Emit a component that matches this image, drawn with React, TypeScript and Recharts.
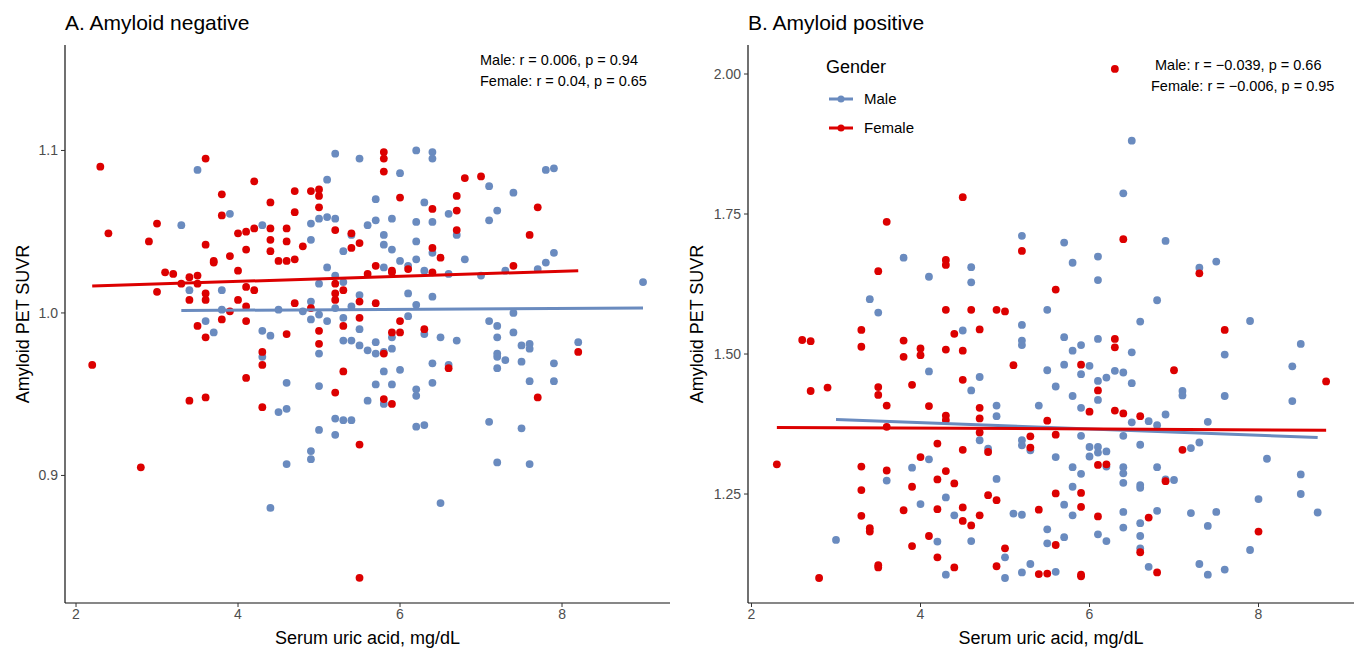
import { ScatterChart, Scatter, XAxis, YAxis } from 'recharts';

const BLUE = '#6a8bbf';
const RED = '#dc0000';
const FONT = '"Liberation Sans", Arial, Helvetica, sans-serif';

type Pt = [number, number];

// A. Amyloid negative
const negMale: Pt[] = [
  [3.5, 1.088], [3.3, 1.054], [3.4, 1.014], [3.8, 1.014], [3.8, 1.002], [3.6, 0.995], [3.9, 1.061], [4.3, 1.054],
  [4.9, 1.055], [5.0, 1.058], [5.1, 1.059], [5.2, 1.058], [5.1, 1.082], [5.2, 1.098], [5.5, 1.095], [4.9, 1.045],
  [5.3, 1.038], [5.4, 1.048], [5.1, 1.028], [5.2, 1.023], [5.6, 1.054], [5.0, 1.018], [5.3, 1.019], [4.9, 1.007],
  [5.0, 0.999], [5.2, 1.003], [5.5, 1.011], [5.4, 1.004], [4.5, 1.002], [4.8, 1.001], [4.9, 0.996], [5.1, 0.995],
  [5.3, 0.997], [3.7, 0.988], [4.3, 0.989], [5.5, 0.990],
  [4.3, 0.973], [4.4, 0.986], [5.0, 0.975], [5.3, 0.983], [5.4, 0.983], [5.5, 0.980], [5.6, 0.977], [4.6, 0.957],
  [5.0, 0.955], [5.6, 0.946], [4.5, 0.939], [4.6, 0.941], [5.2, 0.935], [5.3, 0.934], [5.4, 0.934], [5.0, 0.928],
  [5.2, 0.925], [4.9, 0.915], [4.9, 0.910], [4.6, 0.907], [4.4, 0.880],
  [6.0, 1.086], [6.2, 1.100], [6.4, 1.099], [6.4, 1.095], [5.7, 1.070], [5.7, 1.057], [5.9, 1.058], [6.3, 1.068],
  [6.2, 1.056], [6.4, 1.056], [6.6, 1.061], [7.1, 1.078], [7.4, 1.074], [7.2, 1.063], [7.1, 1.057], [7.8, 1.088],
  [7.9, 1.089], [7.9, 1.037], [7.8, 1.031], [7.7, 1.027], [7.3, 1.026], [7.0, 1.023], [6.8, 1.033], [6.7, 1.048],
  [5.8, 1.048], [5.8, 1.042], [5.9, 1.039], [6.2, 1.044], [6.2, 1.033], [6.4, 1.037], [6.0, 1.032], [6.1, 1.029],
  [5.8, 1.028], [6.3, 1.026], [6.6, 1.024], [6.1, 1.012], [6.4, 1.010], [6.2, 1.005], [6.1, 0.998], [7.4, 1.000],
  [7.1, 0.995], [7.2, 0.992], [9.0, 1.019],
  [6.3, 0.987], [5.7, 0.982], [5.9, 0.985], [5.7, 0.975], [5.8, 0.976], [5.9, 0.978], [6.5, 0.985], [6.7, 0.983],
  [7.2, 0.985], [7.4, 0.988], [7.5, 0.980], [7.6, 0.981], [7.6, 0.978], [7.2, 0.975], [7.2, 0.973], [7.3, 0.971],
  [7.2, 0.966], [7.5, 0.970], [7.9, 0.969], [8.2, 0.982], [7.6, 0.958], [7.9, 0.958], [6.4, 0.969], [6.6, 0.968],
  [5.8, 0.964], [6.0, 0.965], [5.7, 0.956], [5.9, 0.956], [6.4, 0.957], [6.2, 0.953], [6.2, 0.949], [5.8, 0.944],
  [6.2, 0.930], [6.3, 0.931], [7.1, 0.933], [7.5, 0.929], [7.2, 0.908], [7.6, 0.907], [6.5, 0.883],
];

const negFemale: Pt[] = [
  [2.3, 1.090], [3.6, 1.095], [2.4, 1.049], [3.0, 1.055], [2.9, 1.044], [3.1, 1.025], [3.2, 1.024], [3.0, 1.013],
  [3.3, 1.018], [3.4, 1.022], [3.5, 1.023], [3.4, 1.008], [3.5, 1.018], [3.6, 1.012], [3.6, 1.008], [3.5, 0.992],
  [3.6, 1.042], [3.7, 1.032], [3.7, 1.031], [3.8, 1.073], [3.8, 1.060], [3.9, 1.035], [4.0, 1.026], [3.9, 1.001],
  [3.8, 0.996], [4.0, 1.049], [4.1, 1.050], [4.2, 1.052], [4.2, 1.081], [4.1, 1.039], [4.1, 1.016], [4.2, 1.014],
  [4.0, 1.008], [4.1, 1.004], [4.1, 0.995], [4.4, 1.068], [4.4, 1.052], [4.4, 1.045], [4.4, 1.038], [4.5, 1.032],
  [4.6, 1.032], [4.7, 1.033], [4.6, 1.052], [4.6, 1.044], [4.7, 1.075], [4.7, 1.062], [4.8, 1.041], [4.9, 1.075],
  [5.0, 1.076], [5.0, 1.072], [5.0, 1.065], [5.2, 1.051], [5.4, 1.049], [5.4, 1.040], [5.5, 1.043], [5.6, 1.024],
  [5.2, 1.018], [5.3, 1.014], [4.7, 1.006], [4.9, 1.003], [5.2, 1.012], [5.2, 1.008], [5.5, 1.007], [5.5, 0.997],
  [5.3, 0.992], [5.0, 0.989],
  [2.2, 0.968], [2.8, 0.905], [3.6, 0.985], [4.3, 0.976], [4.3, 0.968], [4.1, 0.960], [4.6, 0.987], [5.0, 0.981],
  [5.3, 0.964], [5.2, 0.951], [3.4, 0.946], [3.6, 0.948], [4.3, 0.942], [5.5, 0.919], [5.5, 0.837],
  [5.8, 1.099], [5.8, 1.095], [5.8, 1.087], [6.0, 1.071], [6.4, 1.064], [6.7, 1.072], [6.7, 1.063], [6.8, 1.083],
  [7.0, 1.084], [7.7, 1.065], [7.6, 1.048], [7.4, 1.029], [6.7, 1.051], [6.4, 1.040], [6.5, 1.034], [6.1, 1.027],
  [5.7, 1.029], [5.9, 1.026], [5.9, 1.025], [6.4, 1.025], [5.7, 1.006], [6.0, 0.995],
  [5.9, 0.988], [6.0, 0.988], [6.3, 0.990], [5.8, 0.975], [8.2, 0.976], [7.7, 0.948], [6.6, 0.966], [5.8, 0.947],
  [5.9, 0.944],
];

const negMaleFit: Pt[] = [[3.3, 1.0015], [9.0, 1.003]];
const negFemaleFit: Pt[] = [[2.2, 1.0166], [8.2, 1.026]];

// B. Amyloid positive
const posMale: Pt[] = [
  [5.2, 1.711], [3.8, 1.672], [4.6, 1.655], [4.6, 1.628], [4.1, 1.638], [3.4, 1.598], [3.5, 1.574], [5.5, 1.579],
  [5.2, 1.552], [4.5, 1.542],
  [5.2, 1.524], [5.2, 1.516], [5.5, 1.471], [4.1, 1.469], [4.7, 1.459], [4.6, 1.435], [4.9, 1.408], [4.9, 1.389],
  [5.4, 1.408], [4.7, 1.346], [5.2, 1.346], [5.2, 1.337], [5.3, 1.328], [4.8, 1.331], [4.1, 1.312], [3.6, 1.274],
  [3.9, 1.297], [4.9, 1.277], [4.3, 1.244], [4.0, 1.232], [4.4, 1.212], [5.1, 1.215], [5.2, 1.213], [5.5, 1.187],
  [5.5, 1.162], [3.0, 1.168], [4.2, 1.165], [4.6, 1.166], [5.0, 1.137], [5.2, 1.110], [5.3, 1.125], [4.3, 1.106],
  [5.0, 1.100],
  [6.5, 1.881], [6.4, 1.787], [6.9, 1.702], [5.7, 1.699], [6.1, 1.674], [5.8, 1.663], [6.1, 1.632], [7.3, 1.654],
  [7.5, 1.665], [6.8, 1.596], [6.6, 1.558], [7.9, 1.559],
  [5.7, 1.530], [6.1, 1.527], [5.8, 1.506], [5.9, 1.516], [6.5, 1.503], [7.6, 1.499], [8.5, 1.518], [6.0, 1.479],
  [5.7, 1.481], [5.9, 1.464], [6.1, 1.452], [6.2, 1.458], [6.3, 1.470], [6.4, 1.467], [6.5, 1.448], [8.4, 1.478],
  [8.4, 1.416], [5.6, 1.442], [6.1, 1.418], [5.8, 1.425], [7.1, 1.434], [7.1, 1.426], [7.6, 1.425], [5.9, 1.404],
  [6.5, 1.378], [6.7, 1.380], [6.8, 1.373], [6.9, 1.392], [7.4, 1.379], [5.9, 1.354], [6.4, 1.354], [6.6, 1.338],
  [7.2, 1.332], [7.3, 1.342], [6.0, 1.334], [6.1, 1.334], [6.1, 1.324], [6.2, 1.326], [6.0, 1.317], [8.1, 1.313],
  [5.6, 1.316], [6.2, 1.299], [5.8, 1.298], [5.9, 1.286], [6.4, 1.298], [6.4, 1.287], [6.4, 1.270], [6.8, 1.298],
  [6.9, 1.276], [7.0, 1.275], [6.6, 1.266], [6.6, 1.261], [5.8, 1.263], [8.5, 1.285], [8.5, 1.250], [5.7, 1.231],
  [5.8, 1.212], [6.4, 1.218], [6.4, 1.190], [6.8, 1.220], [6.6, 1.198], [7.2, 1.216], [7.5, 1.218], [7.4, 1.193],
  [8.0, 1.241], [8.7, 1.217], [5.7, 1.173], [6.1, 1.178], [6.2, 1.166], [6.6, 1.175], [6.6, 1.153], [7.9, 1.150],
  [6.7, 1.120], [7.3, 1.125], [7.4, 1.106], [7.6, 1.115], [5.6, 1.111],
];

const posFemale: Pt[] = [
  [4.5, 1.780], [3.6, 1.736], [5.2, 1.684], [4.3, 1.668], [4.3, 1.659], [3.5, 1.648], [4.3, 1.579], [4.6, 1.579],
  [4.9, 1.579], [5.0, 1.576], [3.3, 1.543], [4.7, 1.544],
  [2.6, 1.525], [2.7, 1.523], [3.3, 1.513], [3.8, 1.524], [3.8, 1.495], [4.0, 1.510], [4.0, 1.498], [4.3, 1.508],
  [4.4, 1.536], [4.5, 1.506], [5.1, 1.480], [4.5, 1.454], [2.7, 1.434], [2.9, 1.440], [3.5, 1.441], [3.5, 1.427],
  [3.9, 1.445], [3.6, 1.408], [4.1, 1.407], [4.7, 1.404], [4.7, 1.385], [4.3, 1.390], [4.3, 1.382], [3.6, 1.370],
  [4.7, 1.360], [5.5, 1.381], [5.3, 1.353], [5.3, 1.333], [4.2, 1.340], [4.5, 1.329], [4.8, 1.325], [2.3, 1.303],
  [4.0, 1.316], [3.3, 1.299], [3.6, 1.292], [4.3, 1.291], [4.2, 1.276], [4.4, 1.269], [3.3, 1.257], [3.9, 1.263],
  [4.8, 1.248], [4.9, 1.239], [3.8, 1.221], [4.2, 1.223], [4.5, 1.226], [4.5, 1.202], [4.6, 1.194], [4.7, 1.212],
  [5.4, 1.222], [3.3, 1.211], [3.4, 1.189], [3.4, 1.183], [3.9, 1.157], [4.1, 1.175], [5.0, 1.153], [4.2, 1.137],
  [3.5, 1.123], [3.5, 1.119], [4.4, 1.119], [4.9, 1.121], [5.4, 1.107], [5.5, 1.108], [2.8, 1.100],
  [6.3, 2.009], [6.4, 1.705], [7.3, 1.644], [5.6, 1.615], [7.6, 1.543],
  [6.3, 1.527], [6.3, 1.512], [5.9, 1.481], [7.0, 1.471], [8.8, 1.451], [6.1, 1.435], [6.0, 1.397], [6.3, 1.399],
  [6.4, 1.394], [6.6, 1.389], [5.6, 1.356], [7.1, 1.329], [6.1, 1.302], [6.2, 1.303], [6.9, 1.273], [5.6, 1.251],
  [5.9, 1.252], [5.9, 1.227], [6.1, 1.210], [6.7, 1.208], [8.0, 1.183], [5.6, 1.159], [6.6, 1.146], [6.8, 1.110],
  [5.9, 1.106], [5.9, 1.103],
];

const posMaleFit: Pt[] = [[3.0, 1.383], [8.7, 1.351]];
const posFemaleFit: Pt[] = [[2.3, 1.369], [8.8, 1.364]];

const xTicks = [2, 4, 6, 8];
const negYTicks = [0.9, 1.0, 1.1];
const posYTicks = [1.25, 1.5, 1.75, 2.0];

const toRows = (pts: Pt[]) => pts.map(([x, y]) => ({ x, y }));

const dot = (color: string) => (props: any) => (
  <circle cx={props.cx} cy={props.cy} r={3.9} fill={color} />
);
const noDot = () => <g />;

const tickStyle = { fill: '#4d4d4d', fontSize: 14, fontFamily: FONT };

interface PanelProps {
  male: Pt[];
  female: Pt[];
  maleFit: Pt[];
  femaleFit: Pt[];
  xDomain: [number, number];
  yDomain: [number, number];
  yTicks: number[];
  digits: number;
  width: number;
  yAxisWidth: number;
  rightMargin: number;
}

function Panel(p: PanelProps) {
  return (
    <ScatterChart
      width={p.width}
      height={648}
      margin={{ top: 45, right: p.rightMargin, bottom: 0, left: 0 }}
    >
      <XAxis
        type="number"
        dataKey="x"
        domain={p.xDomain}
        ticks={xTicks}
        allowDataOverflow
        height={45}
        tick={tickStyle}
        tickSize={4}
        tickMargin={2}
        axisLine={{ stroke: '#111', strokeWidth: 1.2 }}
        tickLine={{ stroke: '#333' }}
      />
      <YAxis
        type="number"
        dataKey="y"
        domain={p.yDomain}
        ticks={p.yTicks}
        allowDataOverflow
        width={p.yAxisWidth}
        tick={tickStyle}
        tickSize={4}
        tickMargin={3}
        tickFormatter={(v: number) => v.toFixed(p.digits)}
        axisLine={{ stroke: '#111', strokeWidth: 1.2 }}
        tickLine={{ stroke: '#333' }}
      />
      <Scatter data={toRows(p.male)} shape={dot(BLUE)} isAnimationActive={false} />
      <Scatter data={toRows(p.female)} shape={dot(RED)} isAnimationActive={false} />
      <Scatter
        data={toRows(p.maleFit)}
        line={{ stroke: BLUE, strokeWidth: 3 }}
        shape={noDot}
        isAnimationActive={false}
      />
      <Scatter
        data={toRows(p.femaleFit)}
        line={{ stroke: RED, strokeWidth: 3 }}
        shape={noDot}
        isAnimationActive={false}
      />
    </ScatterChart>
  );
}

function Legend() {
  return (
    <svg width={160} height={90} style={{ position: 'absolute', left: 820, top: 48 }}>
      <text x={6} y={25} fontSize={18} fontFamily={FONT} fill="#000">Gender</text>
      <line x1={9} x2={33} y1={51} y2={51} stroke={BLUE} strokeWidth={3} />
      <circle cx={21} cy={51} r={3.5} fill={BLUE} />
      <text x={44} y={56} fontSize={15} fontFamily={FONT} fill="#000">Male</text>
      <line x1={9} x2={33} y1={80} y2={80} stroke={RED} strokeWidth={3} />
      <circle cx={21} cy={80} r={3.5} fill={RED} />
      <text x={44} y={85} fontSize={15} fontFamily={FONT} fill="#000">Female</text>
    </svg>
  );
}

export default function App() {
  return (
    <div style={{ position: 'absolute', left: 0, top: 0, width: 1359, height: 648, background: '#fff', fontFamily: FONT }}>
      <div style={{ position: 'absolute', left: 0, top: 0 }}>
        <Panel
          male={negMale}
          female={negFemale}
          maleFit={negMaleFit}
          femaleFit={negFemaleFit}
          xDomain={[1.864, 9.333]}
          yDomain={[0.8215, 1.1649]}
          yTicks={negYTicks}
          digits={1}
          width={680}
          yAxisWidth={65}
          rightMargin={10}
        />
      </div>
      <div style={{ position: 'absolute', left: 680, top: 0 }}>
        <Panel
          male={posMale}
          female={posFemale}
          maleFit={posMaleFit}
          femaleFit={posFemaleFit}
          xDomain={[1.9586, 9.13]}
          yDomain={[1.0554, 2.0518]}
          yTicks={posYTicks}
          digits={2}
          width={679}
          yAxisWidth={68}
          rightMargin={5}
        />
      </div>
      <svg width={1359} height={648} style={{ position: 'absolute', left: 0, top: 0, pointerEvents: 'none' }}>
        <g fontFamily={FONT} fill="#000">
          <text x={65} y={30} fontSize={21}>A. Amyloid negative</text>
          <text x={748} y={30} fontSize={21}>B. Amyloid positive</text>
          <text x={367.5} y={644} fontSize={18} textAnchor="middle">Serum uric acid, mg/dL</text>
          <text x={1051} y={644} fontSize={18} textAnchor="middle">Serum uric acid, mg/dL</text>
          <text x={29} y={324} fontSize={18} textAnchor="middle" transform="rotate(-90 29 324)">Amyloid PET SUVR</text>
          <text x={703} y={324} fontSize={18} textAnchor="middle" transform="rotate(-90 703 324)">Amyloid PET SUVR</text>
          <text x={480} y={65} fontSize={14.5}>Male: r = 0.006, p = 0.94</text>
          <text x={480} y={86} fontSize={14.5}>Female: r = 0.04, p = 0.65</text>
          <text x={1155} y={70} fontSize={14.5}>Male: r = −0.039, p = 0.66</text>
          <text x={1151} y={91} fontSize={14.5}>Female: r = −0.006, p = 0.95</text>
        </g>
      </svg>
      <Legend />
    </div>
  );
}
